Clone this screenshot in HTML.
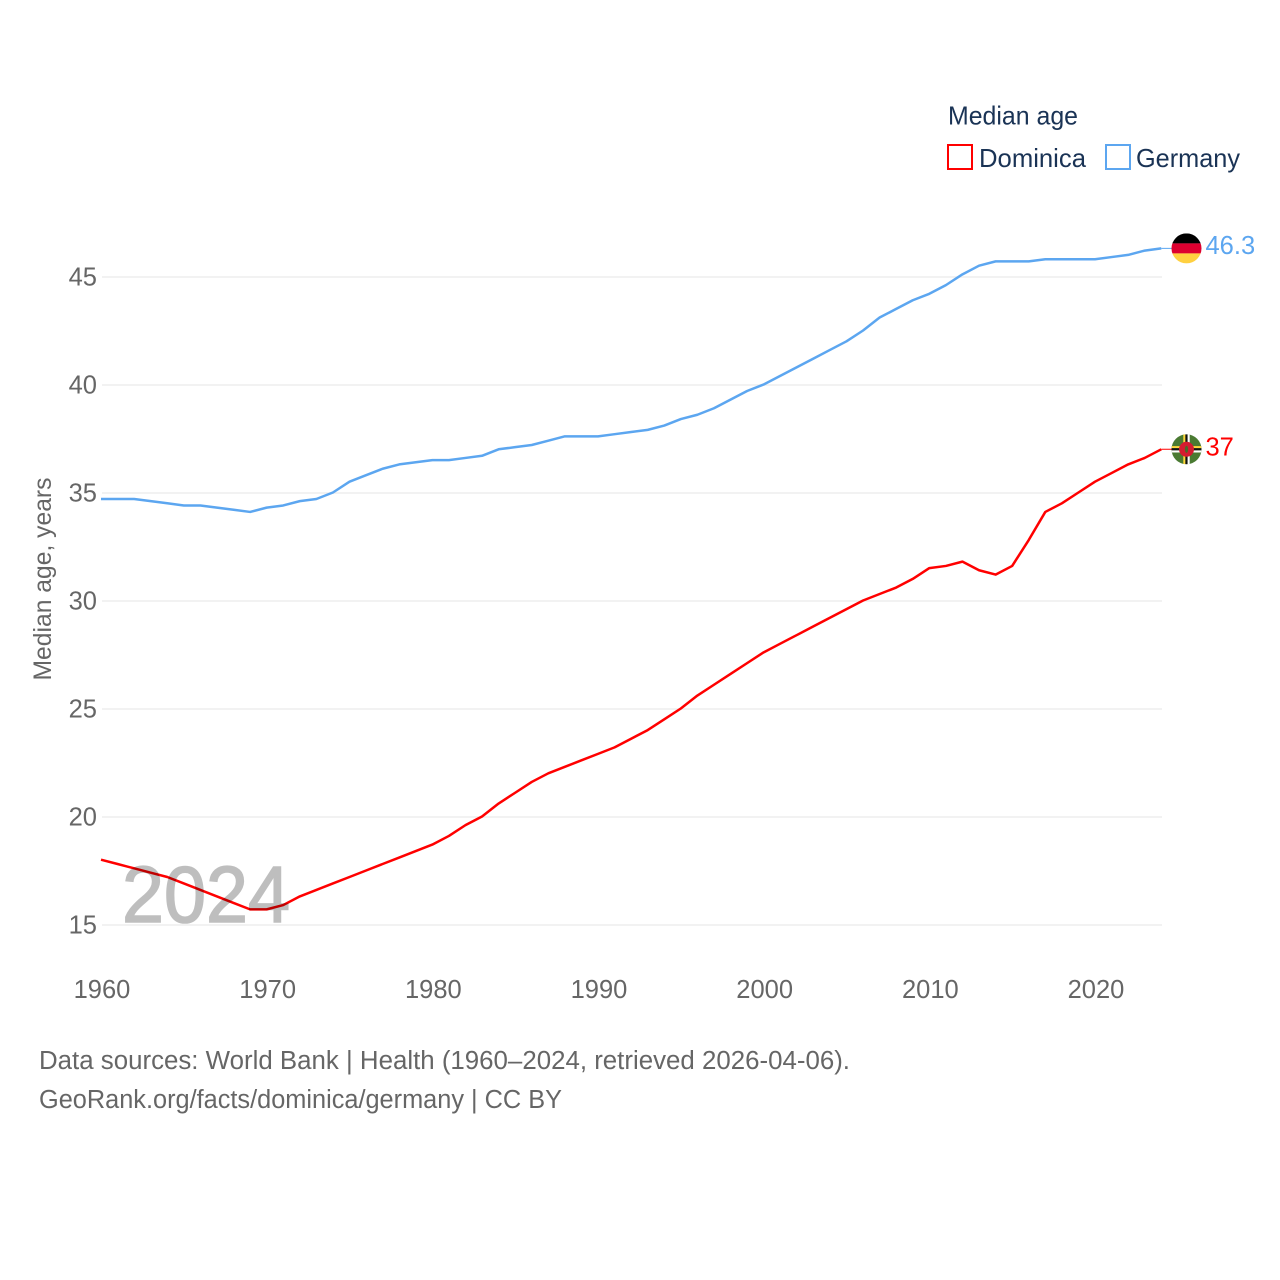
<!DOCTYPE html>
<html lang="en">
<head>
<meta charset="utf-8">
<title>Median age: Dominica and Germany</title>
<style>
html,body{margin:0;padding:0;background:#fff;}
svg{display:block;}
text{font-family:"Liberation Sans",sans-serif;}
</style>
</head>
<body>
<svg id="chart" xmlns="http://www.w3.org/2000/svg" width="1280" height="1280" viewBox="0 0 1280 1280">
  <defs>
    <clipPath id="flag-clip"><circle cx="0" cy="0" r="15"></circle></clipPath>
  </defs>
  <rect x="0" y="0" width="1280" height="1280" fill="#ffffff"></rect>

  <g id="grid"></g>
  <g id="y-ticks"></g>
  <g id="x-ticks"></g>

  <text transform="translate(51,579) rotate(-90)" text-anchor="middle" font-size="25" fill="#666666" textLength="203" lengthAdjust="spacingAndGlyphs">Median age, years</text>

  <g id="series" transform="translate(-1,-0.5)"></g>

  <g opacity="0.25">
    <text x="122" y="922" font-size="80" fill="#000000" stroke="#000000" stroke-width="1.6" textLength="168" lengthAdjust="spacingAndGlyphs">2024</text>
  </g>

  <g id="end-markers">
    <g id="flag-germany">
      <g clip-path="url(#flag-clip)">
        <rect x="-15" y="-15" width="30" height="10" fill="#000000"></rect>
        <rect x="-15" y="-5" width="30" height="10" fill="#dd0030"></rect>
        <rect x="-15" y="5" width="30" height="10" fill="#ffd040"></rect>
      </g>
    </g>
    <g id="flag-dominica">
      <g clip-path="url(#flag-clip)">
        <rect x="-15" y="-15" width="30" height="30" fill="#4a7a32"></rect>
        <rect x="-3.2" y="-15" width="2.1" height="30" fill="#ffd83c"></rect>
        <rect x="-1.1" y="-15" width="2.2" height="30" fill="#111111"></rect>
        <rect x="1.1" y="-15" width="2.1" height="30" fill="#ffffff"></rect>
        <rect x="-15" y="-3.2" width="30" height="2.1" fill="#ffd83c"></rect>
        <rect x="-15" y="-1.1" width="30" height="2.2" fill="#111111"></rect>
        <rect x="-15" y="1.1" width="30" height="2.1" fill="#ffffff"></rect>
        <circle cx="0" cy="0" r="7.5" fill="#d41c30"></circle>
        <ellipse cx="0" cy="0" rx="1.6" ry="3.6" fill="#4a6a28"></ellipse>
      </g>
    </g>
  </g>

  <g>
    <text x="948" y="124.5" font-size="26" fill="#1a3355" textLength="130" lengthAdjust="spacingAndGlyphs">Median age</text>
    <g>
      <rect x="948" y="145" width="24" height="24" fill="none" stroke="#ff0000" stroke-width="2"></rect>
      <text x="979" y="167" font-size="26" fill="#1a3355" textLength="107" lengthAdjust="spacingAndGlyphs">Dominica</text>
    </g>
    <g>
      <rect x="1106" y="145" width="24" height="24" fill="none" stroke="#5ca6f0" stroke-width="2"></rect>
      <text x="1136" y="167" font-size="26" fill="#1a3355" textLength="104" lengthAdjust="spacingAndGlyphs">Germany</text>
    </g>
  </g>

  <g>
    <text x="39" y="1069" font-size="25.5" fill="#666666" textLength="811" lengthAdjust="spacingAndGlyphs">Data sources: World Bank | Health (1960–2024, retrieved 2026-04-06).</text>
    <text x="39" y="1108" font-size="25.5" fill="#666666" textLength="523" lengthAdjust="spacingAndGlyphs">GeoRank.org/facts/dominica/germany | CC BY</text>
  </g>
</svg>

<script>
const years = [1960,1961,1962,1963,1964,1965,1966,1967,1968,1969,1970,1971,1972,1973,1974,1975,1976,1977,1978,1979,1980,1981,1982,1983,1984,1985,1986,1987,1988,1989,1990,1991,1992,1993,1994,1995,1996,1997,1998,1999,2000,2001,2002,2003,2004,2005,2006,2007,2008,2009,2010,2011,2012,2013,2014,2015,2016,2017,2018,2019,2020,2021,2022,2023,2024];
const dominicaValues = [18.0,17.8,17.6,17.4,17.2,16.9,16.6,16.3,16.0,15.7,15.7,15.9,16.3,16.6,16.9,17.2,17.5,17.8,18.1,18.4,18.7,19.1,19.6,20.0,20.6,21.1,21.6,22.0,22.3,22.6,22.9,23.2,23.6,24.0,24.5,25.0,25.6,26.1,26.6,27.1,27.6,28.0,28.4,28.8,29.2,29.6,30.0,30.3,30.6,31.0,31.5,31.6,31.8,31.4,31.2,31.6,32.8,34.1,34.5,35.0,35.5,35.9,36.3,36.6,37.0];
const germanyValues = [34.7,34.7,34.7,34.6,34.5,34.4,34.4,34.3,34.2,34.1,34.3,34.4,34.6,34.7,35.0,35.5,35.8,36.1,36.3,36.4,36.5,36.5,36.6,36.7,37.0,37.1,37.2,37.4,37.6,37.6,37.6,37.7,37.8,37.9,38.1,38.4,38.6,38.9,39.3,39.7,40.0,40.4,40.8,41.2,41.6,42.0,42.5,43.1,43.5,43.9,44.2,44.6,45.1,45.5,45.7,45.7,45.7,45.8,45.8,45.8,45.8,45.9,46.0,46.2,46.3];
const yTickValues = [15,20,25,30,35,40,45];
const xTickValues = [1960,1970,1980,1990,2000,2010,2020];

const SVG_NS = 'http://www.w3.org/2000/svg';
const RED = '#ff0000';
const BLUE = '#5ca6f0';
const PLOT_LEFT = 102;
const PLOT_RIGHT = 1162;
const FLAG_X = 1186.5;
const LABEL_X = 1205.5;

function xScale(year) {
  return 102 + (year - 1960) * (1096 - 102) / 60;
}
function yScale(value) {
  return 925 - (value - 15) * (925 - 277) / 30;
}
function make(tag, attrs, parent) {
  const el = document.createElementNS(SVG_NS, tag);
  Object.keys(attrs).forEach(function (k) { el.setAttribute(k, attrs[k]); });
  parent.appendChild(el);
  return el;
}

const gridGroup = document.getElementById('grid');
const yTickGroup = document.getElementById('y-ticks');
const xTickGroup = document.getElementById('x-ticks');
const seriesGroup = document.getElementById('series');
const markerGroup = document.getElementById('end-markers');

yTickValues.forEach(function (v) {
  const line = make('line', {x1: PLOT_LEFT, x2: PLOT_RIGHT, y1: yScale(v), y2: yScale(v), stroke: '#eeeeee', 'stroke-width': 1.5}, gridGroup);
  
  
  const label = make('text', {x: 97, y: yScale(v) + 8.5, 'text-anchor': 'end', 'font-size': 25.5, fill: '#666666'}, yTickGroup);
  label.textContent = String(v);
  
  
});

xTickValues.forEach(function (yr) {
  const label = make('text', {x: xScale(yr), y: 998, 'text-anchor': 'middle', 'font-size': 25.5, fill: '#666666'}, xTickGroup);
  label.textContent = String(yr);
  
  
});

function pathFor(values) {
  return values.map(function (v, i) {
    return (i === 0 ? 'M' : 'L') + xScale(years[i]).toFixed(2) + ' ' + yScale(v).toFixed(2);
  }).join(' ');
}

const dominicaLine = make('path', {d: pathFor(dominicaValues), fill: 'none', stroke: RED, 'stroke-width': 2.5, 'stroke-linejoin': 'round'}, seriesGroup);



const germanyLine = make('path', {d: pathFor(germanyValues), fill: 'none', stroke: BLUE, 'stroke-width': 2.5, 'stroke-linejoin': 'round'}, seriesGroup);



const lastIndex = years.length - 1;
const lastX = xScale(years[lastIndex]) - 1;
const dominicaY = yScale(dominicaValues[lastIndex]) - 0.5;
const germanyY = yScale(germanyValues[lastIndex]) - 0.5;

const dominicaLeader = make('line', {x1: lastX, x2: FLAG_X, y1: dominicaY, y2: dominicaY, stroke: RED, 'stroke-width': 1}, markerGroup);



const germanyLeader = make('line', {x1: lastX, x2: FLAG_X, y1: germanyY, y2: germanyY, stroke: BLUE, 'stroke-width': 1}, markerGroup);



const flagGermany = document.getElementById('flag-germany');
const flagDominica = document.getElementById('flag-dominica');
flagGermany.setAttribute('transform', 'translate(' + FLAG_X + ',' + germanyY + ')');
flagDominica.setAttribute('transform', 'translate(' + FLAG_X + ',' + dominicaY + ')');
markerGroup.appendChild(flagGermany);
markerGroup.appendChild(flagDominica);

const germanyValueLabel = make('text', {x: LABEL_X, y: germanyY + 5.5, 'font-size': 25.5, fill: BLUE}, markerGroup);
germanyValueLabel.textContent = String(germanyValues[lastIndex]);



const dominicaValueLabel = make('text', {x: LABEL_X, y: dominicaY + 6, 'font-size': 25.5, fill: RED}, markerGroup);
dominicaValueLabel.textContent = String(dominicaValues[lastIndex]);


</script>
</body>
</html>
